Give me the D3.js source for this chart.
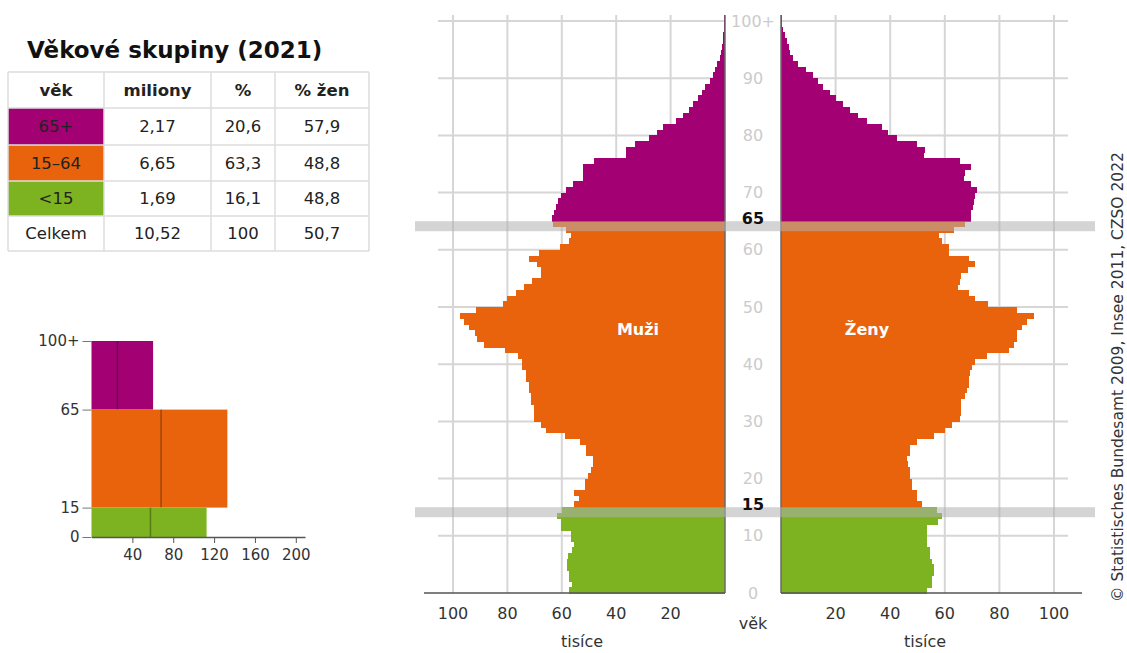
<!DOCTYPE html>
<html>
<head>
<meta charset="utf-8">
<script src="https://cdn.jsdelivr.net/npm/d3@7"></script>
<style>
    body { margin: 0; background: #fff; }
    svg text { font-family: "DejaVu Sans", Verdana, sans-serif; }
</style>
</head>
<body>
<div id="chart"></div>
<script>

// ---- data (thousands of people by single year of age, 0 .. 100+) ----
const ages = d3.range(0, 101);

const menThousands = [
    57.4, 56.1, 57.4, 57.4, 58.0, 58.0, 57.7, 56.1, 55.5, 56.7,
    56.7, 60.4, 60.4, 61.6, 59.8, 55.5, 53.5, 55.4, 51.5, 51.5,
    50.5, 49.3, 48.7, 48.7, 51.0, 51.0, 53.4, 59.0, 65.8, 67.6,
    70.2, 70.2, 70.2, 71.2, 71.2, 72.0, 72.0, 73.3, 73.3, 74.5,
    74.5, 76.0, 81.0, 88.5, 91.0, 92.0, 94.0, 96.0, 97.4, 91.5,
    81.5, 80.0, 77.0, 74.0, 71.0, 67.5, 67.5, 69.0, 72.0, 68.5,
    60.5, 57.5, 56.5, 58.5, 63.1, 63.5, 62.9, 62.3, 61.4, 60.4,
    58.6, 55.8, 52.2, 52.2, 52.2, 48.2, 36.5, 36.5, 33.0, 28.0,
    24.9, 22.7, 18.1, 15.5, 13.2, 11.8, 10.0, 8.5, 7.2, 5.5,
    4.3, 3.5, 2.8, 2.0, 1.6, 1.2, 0.9, 0.7, 0.5, 0.3,
    0.2
];

const womenThousands = [
    53.4, 55.3, 55.3, 55.9, 55.9, 55.3, 54.7, 54.7, 53.4, 53.4,
    53.4, 53.4, 57.5, 58.9, 57.1, 51.8, 49.8, 49.8, 47.9, 47.9,
    47.3, 47.3, 46.7, 46.1, 47.3, 47.3, 49.8, 55.9, 60.0, 62.6,
    65.7, 66.0, 66.0, 66.0, 67.5, 68.1, 68.8, 68.8, 69.4, 70.0,
    71.2, 75.5, 83.5, 85.3, 86.5, 86.5, 88.4, 90.2, 92.6, 86.5,
    76.0, 71.2, 68.8, 65.0, 65.7, 66.0, 68.5, 71.0, 68.8, 61.6,
    61.4, 59.0, 58.0, 63.2, 67.5, 69.7, 69.7, 70.3, 70.8, 71.2,
    71.8, 69.7, 66.9, 67.5, 69.7, 65.7, 52.2, 52.8, 49.8, 42.4,
    39.3, 36.9, 31.4, 28.3, 25.2, 22.8, 20.3, 17.9, 15.4, 13.6,
    11.8, 9.3, 6.2, 4.4, 3.2, 2.8, 2.3, 1.3, 0.7, 0.4,
    0.3
];

const ageTicks = [0, 10, 20, 30, 40, 50, 60, 70, 80, 90, 100];
const thousandTicks = [20, 40, 60, 80, 100];
const groupBreaks = [15, 65];

// age groups table
const groupLabels = ["65+", "15\u201364", "<15"];
const groupMillions = [2.17, 6.65, 1.69];
const groupPercent = [20.6, 63.3, 16.1];
const groupWomenPercent = [57.9, 48.8, 48.8];
const groupFrom = [65, 15, 0];
const groupTo = [100, 65, 15];
const groupYears = [36, 50, 15];
const groupColors = ["#a30073", "#e8630c", "#7db220"];
const totalRow = ["Celkem", "10,52", "100", "50,7"];
const tableHeader = ["věk", "miliony", "%", "% žen"];

const smallTicksX = [40, 80, 120, 160, 200];
const smallTicksY = [0, 15, 65, 100];

const fmt = v => String(v).replace(".", ",");
const colorForAge = a => a >= 65 ? groupColors[0] : (a >= 15 ? groupColors[1] : groupColors[2]);

// ---- svg ----
const width = 1127, height = 653;
const svg = d3.select("#chart").append("svg")
    .attr("width", width)
    .attr("height", height);

// ================= pyramid =================
const y = d3.scaleLinear().domain([0, 100]).range([593, 21]);
const xMen = d3.scaleLinear().domain([0, 100]).range([725, 453]);
const xWomen = d3.scaleLinear().domain([0, 100]).range([781, 1054]);

const grid = svg.append("g").attr("stroke", "#d6d6d6").attr("stroke-width", 2);

// vertical grid
grid.selectAll(".vm").data(thousandTicks).enter().append("line")
    .attr("x1", d => xMen(d)).attr("x2", d => xMen(d))
    .attr("y1", 15).attr("y2", y(0));
grid.selectAll(".vw").data(thousandTicks).enter().append("line")
    .attr("x1", d => xWomen(d)).attr("x2", d => xWomen(d))
    .attr("y1", 15).attr("y2", y(0));

// horizontal grid
grid.selectAll(".hm").data(ageTicks.slice(1)).enter().append("line")
    .attr("x1", 438).attr("x2", xMen(0))
    .attr("y1", d => y(d)).attr("y2", d => y(d));
grid.selectAll(".hw").data(ageTicks.slice(1)).enter().append("line")
    .attr("x1", xWomen(0)).attr("x2", 1068)
    .attr("y1", d => y(d)).attr("y2", d => y(d));

// bars
const bars = svg.append("g").attr("shape-rendering", "crispEdges");
bars.selectAll(".men").data(ages).enter().append("rect")
    .attr("x", a => xMen(menThousands[a]))
    .attr("y", a => y(a + 1))
    .attr("width", a => xMen(0) - xMen(menThousands[a]))
    .attr("height", a => y(a) - y(a + 1) + 0.5)
    .attr("fill", a => colorForAge(a));
bars.selectAll(".women").data(ages).enter().append("rect")
    .attr("x", xWomen(0))
    .attr("y", a => y(a + 1))
    .attr("width", a => xWomen(womenThousands[a]) - xWomen(0))
    .attr("height", a => y(a) - y(a + 1) + 0.5)
    .attr("fill", a => colorForAge(a));

// axes lines
svg.append("g").attr("stroke", "#6a6a6a").attr("stroke-width", 1.5)
    .selectAll("line").data([xMen(0), xWomen(0)]).enter().append("line")
    .attr("x1", d => d).attr("x2", d => d)
    .attr("y1", 15).attr("y2", y(0));

svg.append("line").attr("x1", 424).attr("x2", xMen(0))
    .attr("y1", y(0)).attr("y2", y(0)).attr("stroke", "#555").attr("stroke-width", 1.5);
svg.append("line").attr("x1", xWomen(0)).attr("x2", 1082)
    .attr("y1", y(0)).attr("y2", y(0)).attr("stroke", "#555").attr("stroke-width", 1.5);

// group break bands
svg.selectAll(".band").data(groupBreaks).enter().append("rect")
    .attr("x", 415).attr("width", 680)
    .attr("y", d => y(d)).attr("height", 10)
    .attr("fill", "#b0b0b0").attr("opacity", 0.55);

// age labels
svg.selectAll(".agelab").data(ageTicks).enter().append("text")
    .attr("x", 753).attr("y", d => y(d))
    .attr("dy", "0.35em")
    .attr("text-anchor", "middle")
    .attr("font-size", 16)
    .attr("fill", "#cbcbcb")
    .text(d => d === 100 ? "100+" : d);

svg.selectAll(".breaklab").data(groupBreaks).enter().append("text")
    .attr("x", 753).attr("y", d => y(d) - 3)
    .attr("dy", "0.35em")
    .attr("text-anchor", "middle")
    .attr("font-size", 16)
    .attr("font-weight", "bold")
    .attr("fill", "#111")
    .text(d => d);

// thousand tick labels
svg.selectAll(".tm").data(thousandTicks).enter().append("text")
    .attr("x", d => xMen(d)).attr("y", 613).attr("dy", "0.35em")
    .attr("text-anchor", "middle").attr("font-size", 16).attr("fill", "#333")
    .text(d => d);
svg.selectAll(".tw").data(thousandTicks).enter().append("text")
    .attr("x", d => xWomen(d)).attr("y", 613).attr("dy", "0.35em")
    .attr("text-anchor", "middle").attr("font-size", 16).attr("fill", "#333")
    .text(d => d);

svg.append("text").attr("x", 753).attr("y", 623).attr("dy", "0.35em")
    .attr("text-anchor", "middle").attr("font-size", 16).attr("fill", "#333").text("věk");
svg.append("text").attr("x", 582).attr("y", 641).attr("dy", "0.35em")
    .attr("text-anchor", "middle").attr("font-size", 16).attr("fill", "#333").text("tisíce");
svg.append("text").attr("x", 925).attr("y", 641).attr("dy", "0.35em")
    .attr("text-anchor", "middle").attr("font-size", 16).attr("fill", "#333").text("tisíce");

// sex labels
svg.append("text").attr("x", 638).attr("y", 329).attr("dy", "0.35em")
    .attr("text-anchor", "middle").attr("font-size", 16).attr("font-weight", "bold")
    .attr("fill", "#fff").text("Muži");
svg.append("text").attr("x", 867).attr("y", 329).attr("dy", "0.35em")
    .attr("text-anchor", "middle").attr("font-size", 16).attr("font-weight", "bold")
    .attr("fill", "#fff").text("Ženy");

// source
svg.append("text")
    .attr("transform", "translate(1118,377) rotate(-90)")
    .attr("dy", "0.35em")
    .attr("text-anchor", "middle")
    .attr("font-size", 15.5)
    .attr("fill", "#333")
    .text("© Statistisches Bundesamt 2009, Insee 2011, CZSO 2022");

// ================= table =================
svg.append("text").attr("x", 27).attr("y", 58)
    .attr("font-size", 23).attr("font-weight", "bold").attr("fill", "#111")
    .text("Věkové skupiny (2021)");

const colX = [8, 104, 211, 275, 369];
const rowY = [72, 108, 145, 181, 216, 251];

const tableRows = [tableHeader];
groupLabels.forEach((g, i) => {
    tableRows.push([g, fmt(groupMillions[i]), fmt(groupPercent[i]), fmt(groupWomenPercent[i])]);
});
tableRows.push(totalRow);

const table = svg.append("g");

// coloured cells
table.selectAll(".cell").data(groupLabels).enter().append("rect")
    .attr("x", colX[0]).attr("y", (d, i) => rowY[i + 1])
    .attr("width", colX[1] - colX[0])
    .attr("height", (d, i) => rowY[i + 2] - rowY[i + 1])
    .attr("fill", (d, i) => groupColors[i]);

// borders
table.selectAll(".hl").data(rowY).enter().append("line")
    .attr("x1", colX[0]).attr("x2", colX[4])
    .attr("y1", d => d).attr("y2", d => d)
    .attr("stroke", "#dcdcdc").attr("stroke-width", 1.5);
table.selectAll(".vl").data(colX).enter().append("line")
    .attr("x1", d => d).attr("x2", d => d)
    .attr("y1", rowY[0]).attr("y2", rowY[5])
    .attr("stroke", "#dcdcdc").attr("stroke-width", 1.5);

tableRows.forEach((row, r) => {
    row.forEach((cell, c) => {
        table.append("text")
            .attr("x", (colX[c] + colX[c + 1]) / 2)
            .attr("y", (rowY[r] + rowY[r + 1]) / 2)
            .attr("dy", "0.35em")
            .attr("text-anchor", "middle")
            .attr("font-size", 16.5)
            .attr("font-weight", r === 0 ? "bold" : "normal")
            .attr("fill", "#222")
            .text(cell);
    });
});

// ================= small group chart =================
const xs = d3.scaleLinear().domain([0, 209]).range([91.5, 305]);
const ys = d3.scaleLinear().domain([0, 100]).range([537, 341]);

const small = svg.append("g");

groupLabels.forEach((g, i) => {
    const perYear = groupMillions[i] * 1000 / groupYears[i];
    const menPerYear = perYear * (100 - groupWomenPercent[i]) / 100;
    small.append("rect")
        .attr("x", xs(0))
        .attr("y", ys(groupTo[i]))
        .attr("width", xs(perYear) - xs(0))
        .attr("height", ys(groupFrom[i]) - ys(groupTo[i]))
        .attr("fill", groupColors[i]);
    small.append("line")
        .attr("x1", xs(menPerYear)).attr("x2", xs(menPerYear))
        .attr("y1", ys(groupTo[i])).attr("y2", ys(groupFrom[i]))
        .attr("stroke", "#000").attr("stroke-opacity", 0.3).attr("stroke-width", 1.5);
});

const xAxisSmall = d3.axisBottom(xs).tickValues(smallTicksX).tickSize(6).tickSizeOuter(0).tickPadding(6);
const gx = small.append("g").attr("transform", `translate(0,${ys(0)})`).call(xAxisSmall);
gx.select(".domain").attr("stroke", "#555").attr("stroke-width", 1.5);
gx.selectAll(".tick line").attr("stroke", "#555");
gx.selectAll("text").attr("font-size", 15).attr("fill", "#333")
    .attr("font-family", "DejaVu Sans, Verdana, sans-serif");

const yAxisSmall = d3.axisLeft(ys).tickValues(smallTicksY).tickSize(9).tickPadding(3)
    .tickFormat(d => d === 100 ? "100+" : d);
const gy = small.append("g").attr("transform", `translate(${xs(0)},0)`).call(yAxisSmall);
gy.select(".domain").remove();
gy.selectAll(".tick line").attr("stroke", "#777");
gy.selectAll("text").attr("font-size", 15).attr("fill", "#333")
    .attr("font-family", "DejaVu Sans, Verdana, sans-serif");

</script>
</body>
</html>
